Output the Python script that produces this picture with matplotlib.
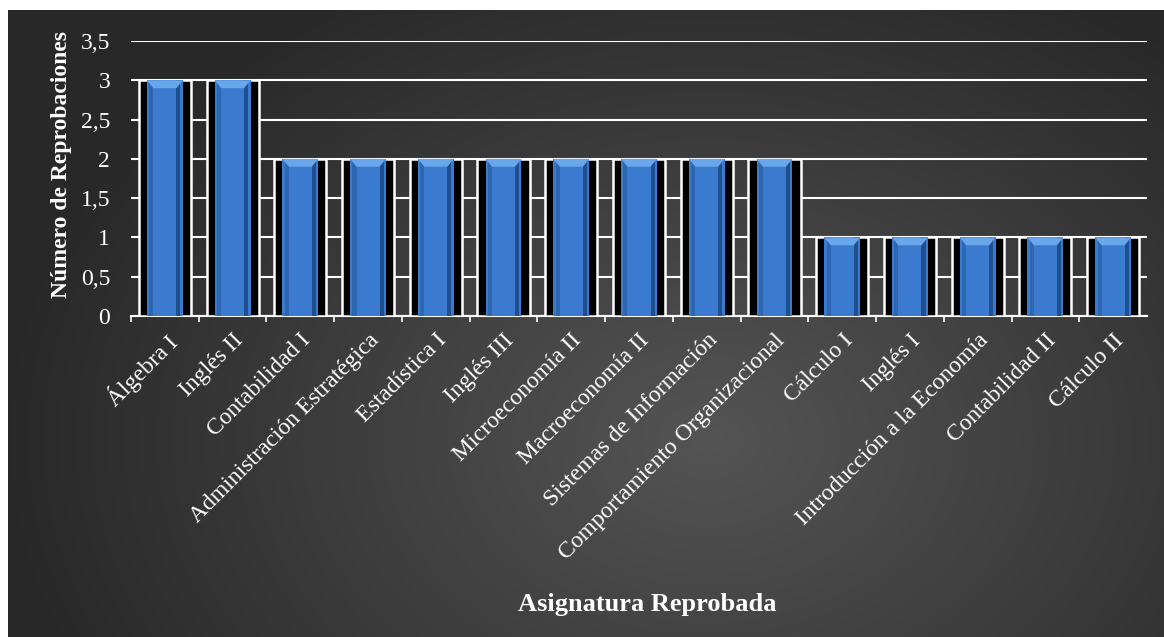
import matplotlib.pyplot as plt
import numpy as np
from matplotlib.ticker import FuncFormatter
from matplotlib.patches import Polygon

plt.rcParams['font.family'] = ['Liberation Serif', 'DejaVu Serif']

asignaturas = ['Álgebra I', 'Inglés II', 'Contabilidad I', 'Administración Estratégica',
               'Estadística I', 'Inglés III', 'Microeconomía II', 'Macroeconomía II',
               'Sistemas de Información', 'Comportamiento Organizacional', 'Cálculo I',
               'Inglés I', 'Introducción a la Economía', 'Contabilidad II', 'Cálculo II']
reprobaciones = [3, 3, 2, 2, 2, 2, 2, 2, 2, 2, 1, 1, 1, 1, 1]

fig = plt.figure(figsize=(11.64, 6.37), dpi=100)
fig.patch.set_facecolor('white')

# fondo degradado
bg = fig.add_axes([8 / 1164, 0, 1 - 8 / 1164, 1 - 10 / 637], zorder=-5)
yy, xx = np.mgrid[0:627, 0:1156]
d = np.sqrt(((xx - 700) / 700.0) ** 2 + ((yy - 430) / 520.0) ** 2)
g = np.clip(0.33 - 0.17 * d, 0.16, 0.33)
bg.imshow(np.dstack([g, g, g]), aspect='auto', interpolation='bilinear')
bg.axis('off')

ax = fig.add_axes([131 / 1164, 1 - 316 / 637, (1147 - 131) / 1164, (316 - 41) / 637])
ax.set_facecolor('none')
x = np.arange(len(asignaturas))

ax.bar(x, reprobaciones, width=0.77, color='black', edgecolor='white', linewidth=1.8, zorder=3)
ax.bar(x, reprobaciones, width=0.53, color='#3b7bcf', edgecolor='none', zorder=4)
ax.bar(x - 0.2, reprobaciones, width=0.06, color='#2f66b0', edgecolor='none', zorder=4)
ax.bar(x + 0.2, reprobaciones, width=0.06, color='#204f8f', edgecolor='none', zorder=4)
for xi, v in zip(x, reprobaciones):
    top = Polygon([[xi - 0.265, v], [xi + 0.265, v], [xi + 0.17, v - 0.1], [xi - 0.17, v - 0.1]],
                  closed=True, facecolor='#6aa6ea', edgecolor='none', zorder=5)
    ax.add_patch(top)

ax.set_xlim(-0.5, len(asignaturas) - 0.5)
ax.set_ylim(0, 3.5)
ax.set_yticks(np.arange(0, 3.51, 0.5))
ax.yaxis.set_major_formatter(FuncFormatter(lambda v, p: ('%g' % v).replace('.', ',')))
ax.grid(axis='y', color='white', linewidth=1.5, zorder=0)
ax.set_axisbelow(True)
for s in ['top', 'right', 'left']:
    ax.spines[s].set_visible(False)
ax.spines['bottom'].set_color('white')
ax.spines['bottom'].set_linewidth(1.5)
ax.tick_params(axis='y', colors='white', labelsize=17, length=0, pad=15)
ax.set_xticks(x - 0.5, minor=True)
ax.tick_params(axis='x', which='minor', colors='white', length=4, width=1.2)
ax.set_xticks(x)
ax.set_xticklabels(asignaturas, rotation=45, ha='right', rotation_mode='anchor',
                   fontsize=17, color='white')
ax.tick_params(axis='x', which='major', length=0, pad=10)

fig.text(62 / 1164, 1 - 165 / 637, 'Número de Reprobaciones', fontsize=17, fontweight='bold',
         color='white', ha='center', va='center', rotation=90)
fig.text(647 / 1164, 1 - 605 / 637, 'Asignatura Reprobada', fontsize=19, fontweight='bold',
         color='white', ha='center', va='center')

fig.savefig('out.png', dpi=100, facecolor=fig.get_facecolor())
